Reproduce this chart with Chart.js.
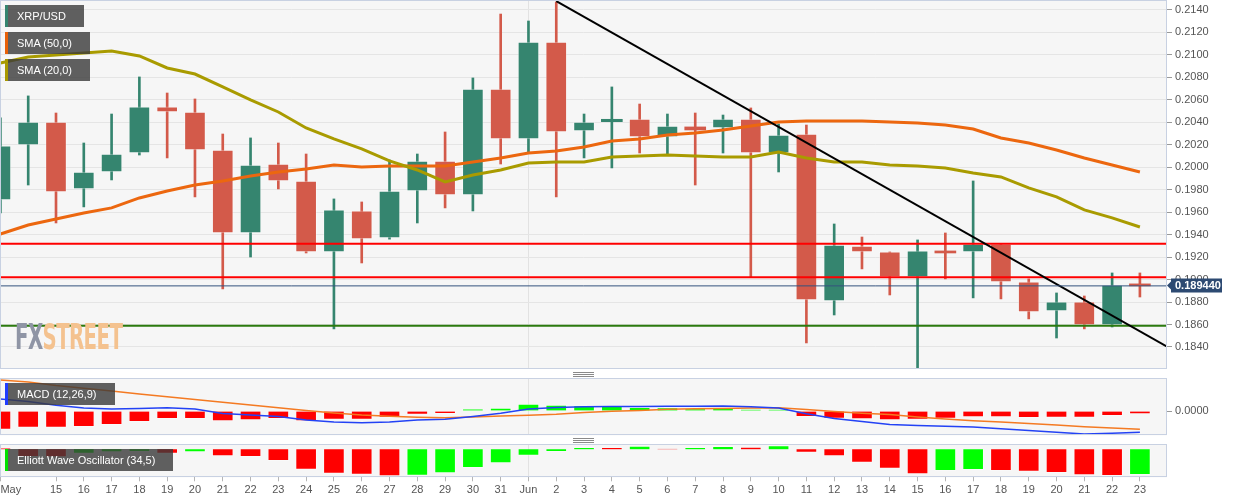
<!DOCTYPE html>
<html>
<head>
<meta charset="utf-8">
<script src="https://cdn.jsdelivr.net/npm/chart.js@4.4.1/dist/chart.umd.min.js"></script>
<style>
  html, body { margin: 0; padding: 0; background: #fff; }
  #wrap { position: relative; width: 1244px; height: 503px; overflow: hidden; font-family: "Liberation Sans", Arial, sans-serif; }
  canvas { position: absolute; left: 0; }
  .tag { position: absolute; left: 5px; height: 22px; line-height: 22px; padding-left: 12px; box-sizing: border-box;
         background: rgba(57, 57, 57, 0.8); color: #fff; font-size: 11px; white-space: nowrap; }
  .tag i { position: absolute; left: 0; top: 0; bottom: 0; width: 3px; }
  .grip { position: absolute; left: 573px; width: 21px; height: 1px; background: #8a8a8a; }
  #fx { position: absolute; left: 15px; top: 319px; font: bold 36px "DejaVu Sans Condensed", "DejaVu Sans", sans-serif;
        line-height: 1; transform: scaleX(0.61); transform-origin: 0 0; white-space: nowrap; letter-spacing: -1px; }
  #fx .g { color: #8f95a5; }
  #fx .o { color: #f4c28f; }
</style>
</head>
<body>
<div id="wrap">
  <canvas id="main" width="1244" height="370" style="top:0"></canvas>
  <canvas id="macd" width="1244" height="70" style="top:370px"></canvas>
  <canvas id="ewo" width="1244" height="63" style="top:440px"></canvas>

  <div id="fx"><span class="g">FX</span><span class="o">STREET</span></div>

  <div class="tag" style="top:5px;width:79px"><i style="background:#35856f"></i>XRP/USD</div>
  <div class="tag" style="top:32px;width:85px"><i style="background:#e86008"></i>SMA (50,0)</div>
  <div class="tag" style="top:59px;width:85px"><i style="background:#a89800"></i>SMA (20,0)</div>
  <div class="tag" style="top:383px;width:110px"><i style="background:#1f3cff"></i>MACD (12,26,9)</div>
  <div class="tag" style="top:449px;width:168px"><i style="background:#00e000"></i>Elliott Wave Oscillator (34,5)</div>

  <div class="grip" style="top:372px"></div>
  <div class="grip" style="top:374px"></div>
  <div class="grip" style="top:376px"></div>
  <div class="grip" style="top:438px"></div>
  <div class="grip" style="top:440px"></div>
  <div class="grip" style="top:442px"></div>
</div>

<script>
// daily candles, 13 May - 23 Jun
const days = ['May 13', 'May 14', 'May 15', 'May 16', 'May 17', 'May 18', 'May 19', 'May 20', 'May 21', 'May 22',
    'May 23', 'May 24', 'May 25', 'May 26', 'May 27', 'May 28', 'May 29', 'May 30', 'May 31', 'Jun 1',
    'Jun 2', 'Jun 3', 'Jun 4', 'Jun 5', 'Jun 6', 'Jun 7', 'Jun 8', 'Jun 9', 'Jun 10', 'Jun 11',
    'Jun 12', 'Jun 13', 'Jun 14', 'Jun 15', 'Jun 16', 'Jun 17', 'Jun 18', 'Jun 19', 'Jun 20', 'Jun 21',
    'Jun 22', 'Jun 23'];
const tickLabels = ['May', '', '15', '16', '17', '18', '19', '20', '21', '22', '23', '24', '25', '26', '27', '28',
    '29', '30', '31', 'Jun', '2', '3', '4', '5', '6', '7', '8', '9', '10', '11', '12', '13', '14', '15', '16',
    '17', '18', '19', '20', '21', '22', '23'];

const opens = [0.19709, 0.20198, 0.20403, 0.19807, 0.19958, 0.20127, 0.20537, 0.20492, 0.20154, 0.19415,
    0.20029, 0.19878, 0.19246, 0.19611, 0.19371, 0.19789, 0.20056, 0.19753, 0.20697, 0.20252,
    0.21115, 0.20323, 0.20406, 0.20430, 0.20270, 0.20359, 0.20350, 0.20430, 0.20127, 0.20296,
    0.18810, 0.19299, 0.19246, 0.19023, 0.19255, 0.19246, 0.19317, 0.18979, 0.18721, 0.18801,
    0.18596, 0.18952];
const highs = [0.20439, 0.20635, 0.20483, 0.20216, 0.20474, 0.20804, 0.20661, 0.20608, 0.20296, 0.20261,
    0.20216, 0.20118, 0.19718, 0.19691, 0.20065, 0.20118, 0.20314, 0.20795, 0.21364, 0.21302,
    0.21471, 0.20474, 0.20715, 0.20563, 0.20474, 0.20483, 0.20465, 0.20528, 0.20385, 0.20376,
    0.19495, 0.19379, 0.19246, 0.19353, 0.19415, 0.19878, 0.19317, 0.19006, 0.18881, 0.18854,
    0.19059, 0.19059];
const lows = [0.19593, 0.19842, 0.19504, 0.19647, 0.19887, 0.20109, 0.20083, 0.19736, 0.18917, 0.19201,
    0.19807, 0.19237, 0.18561, 0.19148, 0.19360, 0.19504, 0.19638, 0.19611, 0.20029, 0.20127,
    0.19736, 0.20083, 0.19994, 0.20127, 0.20118, 0.19842, 0.20127, 0.19023, 0.19958, 0.18436,
    0.18685, 0.19095, 0.18863, 0.18213, 0.19006, 0.18837, 0.18828, 0.18650, 0.18480, 0.18561,
    0.18578, 0.18845];
const closes = [0.20190, 0.20403, 0.19780, 0.19958, 0.20118, 0.20537, 0.20492, 0.20154, 0.19415, 0.20020,
    0.19878, 0.19246, 0.19620, 0.19362, 0.19789, 0.20056, 0.19753, 0.20697, 0.20252, 0.21115,
    0.20314, 0.20403, 0.20427, 0.20270, 0.20367, 0.20332, 0.20430, 0.20127, 0.20287, 0.18819,
    0.19308, 0.19246, 0.19023, 0.19255, 0.19237, 0.19317, 0.18979, 0.18712, 0.18801, 0.18596,
    0.18952, 0.18944];

const sma50 = [0.19406, 0.19486, 0.19540, 0.19593, 0.19638, 0.19727, 0.19789, 0.19842, 0.19878, 0.19922,
    0.19958, 0.19985, 0.20020, 0.20003, 0.20011, 0.20011, 0.20011, 0.20047, 0.20083, 0.20127,
    0.20145, 0.20181, 0.20234, 0.20252, 0.20287, 0.20305, 0.20332, 0.20367, 0.20403, 0.20412,
    0.20412, 0.20412, 0.20403, 0.20394, 0.20376, 0.20341, 0.20261, 0.20216, 0.20154, 0.20083,
    0.20020, 0.19958];
const sma20 = [0.20928, 0.20982, 0.21000, 0.21017, 0.21035, 0.20991, 0.20884, 0.20830, 0.20715, 0.20599,
    0.20492, 0.20350, 0.20252, 0.20163, 0.20056, 0.19976, 0.19869, 0.19931, 0.19976, 0.20038,
    0.20047, 0.20047, 0.20092, 0.20100, 0.20109, 0.20100, 0.20092, 0.20092, 0.20136, 0.20083,
    0.20047, 0.20047, 0.20020, 0.20011, 0.19994, 0.19949, 0.19914, 0.19816, 0.19736, 0.19620,
    0.19549, 0.19468];

const lastPrice = 0.189440;
const resistance1 = 0.1932;
const resistance2 = 0.1902;
const support1 = 0.1859;
const trendX = [20, 42];
const trendY = [0.2148, 0.1840];

const macdLine = [0.00120, 0.00096, 0.00058, 0.00030, 0.00020, 0.00025, 0.00033, 0.00020, -0.00025, -0.00040,
    -0.00055, -0.00090, -0.00110, -0.00117, -0.00110, -0.00090, -0.00083, -0.00055, -0.00023, 0.00020,
    0.00035, 0.00042, 0.00044, 0.00045, 0.00047, 0.00048, 0.00050, 0.00042, 0.00030, -0.00028,
    -0.00074, -0.00105, -0.00136, -0.00145, -0.00153, -0.00160, -0.00178, -0.00194, -0.00212, -0.00230,
    -0.00222, -0.00213];
const macdSignal = [0.00310, 0.00290, 0.00254, 0.00227, 0.00200, 0.00171, 0.00143, 0.00115, 0.00088, 0.00060,
    0.00032, 0.00005, -0.00020, -0.00040, -0.00053, -0.00062, -0.00067, -0.00060, -0.00050, -0.00042,
    -0.00032, -0.00015, -0.00003, 0.00005, 0.00017, 0.00022, 0.00026, 0.00030, 0.00033, 0.00016,
    -0.00005, -0.00022, -0.00036, -0.00060, -0.00080, -0.00097, -0.00110, -0.00125, -0.00140, -0.00158,
    -0.00170, -0.00183];
const macdHist = [-0.00183, -0.00163, -0.00163, -0.00157, -0.00137, -0.00107, -0.00077, -0.00077, -0.00100, -0.00090,
    -0.00077, -0.00100, -0.00083, -0.00083, -0.00063, -0.00033, -0.00027, 0.00020, 0.00030, 0.00070,
    0.00060, 0.00053, 0.00050, 0.00037, 0.00033, 0.00023, 0.00027, 0.00013, 0.00013, -0.00057,
    -0.00073, -0.00080, -0.00090, -0.00083, -0.00073, -0.00060, -0.00060, -0.00067, -0.00063, -0.00063,
    -0.00047, -0.00030];
const ewo = [0.00020, -0.00146, -0.00150, -0.00080, -0.00054, -0.00046, -0.00080, -0.00054, -0.00134, -0.00146,
    -0.00226, -0.00400, -0.00480, -0.00500, -0.00534, -0.00520, -0.00474, -0.00366, -0.00274, -0.00120,
    -0.00046, 0.00040, 0.00034, 0.00066, 0.00006, 0.00034, 0.00060, 0.00046, 0.00074, -0.00060,
    -0.00134, -0.00260, -0.00380, -0.00494, -0.00426, -0.00406, -0.00426, -0.00440, -0.00466, -0.00514,
    -0.00526, -0.00506];

// x range so that one day is ~27.8px and the last candle sits at 1139px
const xMin = -0.015;
const xMax = 41.975;
const AXIS_W = 77;

const UP = '#35856f';
const DOWN = '#d35a4a';

Chart.defaults.font.family = '"Liberation Sans", Arial, sans-serif';
Chart.defaults.font.size = 11;
Chart.defaults.color = '#555';
Chart.defaults.animation = false;
Chart.defaults.plugins.legend.display = false;
Chart.defaults.plugins.tooltip.enabled = false;

// fixes the size of an axis box and drops the label overflow padding
function fixBox(w, h) {
    return function (scale) {
        if (w !== null) scale.width = w;
        if (h !== null) scale.height = h;
        scale.paddingLeft = 0;
        scale.paddingRight = 0;
        scale.paddingTop = 0;
        scale.paddingBottom = 0;
    };
}

const pts = arr => arr.map((v, i) => ({ x: i, y: v }));
const hline = v => [{ x: xMin, y: v }, { x: xMax, y: v }];

// grey plot background and blue-grey frame
const panelPlugin = {
    id: 'panel',
    beforeDraw(chart) {
        const a = chart.chartArea, ctx = chart.ctx;
        ctx.save();
        ctx.fillStyle = '#f6f6f6';
        ctx.fillRect(a.left, a.top, a.right - a.left, a.bottom - a.top);
        ctx.restore();
    },
    afterDatasetsDraw(chart) {
        const a = chart.chartArea, ctx = chart.ctx;
        ctx.save();
        ctx.strokeStyle = '#c8d1e2';
        ctx.lineWidth = 1;
        ctx.strokeRect(Math.round(a.left) + 0.5, Math.round(a.top) + 0.5,
            Math.round(a.right - a.left) - 1, Math.round(a.bottom - a.top) - 1);
        ctx.restore();
    }
};

// last price marker on the right axis
const priceTagPlugin = {
    id: 'priceTag',
    afterDraw(chart) {
        const ctx = chart.ctx;
        const y = Math.round(chart.scales.y.getPixelForValue(lastPrice)) - 0.5;
        const x0 = chart.chartArea.right;
        ctx.save();
        ctx.fillStyle = '#2d4a72';
        ctx.beginPath();
        ctx.moveTo(x0, y);
        ctx.lineTo(x0 + 4, y - 4);
        ctx.lineTo(x0 + 4, y - 7);
        ctx.lineTo(x0 + 55, y - 7);
        ctx.lineTo(x0 + 55, y + 7);
        ctx.lineTo(x0 + 4, y + 7);
        ctx.lineTo(x0 + 4, y + 4);
        ctx.closePath();
        ctx.fill();
        ctx.fillStyle = '#fff';
        ctx.font = 'bold 11px "Liberation Sans", Arial, sans-serif';
        ctx.textBaseline = 'middle';
        ctx.fillText(lastPrice.toFixed(6), x0 + 8, y + 0.5);
        ctx.restore();
    }
};

const candleColors = opens.map((o, i) => closes[i] >= o ? UP : DOWN);
// thin doji bodies get no light outline so they stay solid
const bodyBorder = opens.map((o, i) => Math.abs(closes[i] - o) < 0.0003 ? 0 : 1);

// vertical separator at 1 Jun
const junX = () => ({
    type: 'linear', min: xMin, max: xMax, offset: false,
    border: { display: false },
    grid: { offset: false, drawTicks: false, color: '#e2e2e2' },
    ticks: { display: false },
    afterBuildTicks: s => { s.ticks = [{ value: 19 }]; },
    afterFit: fixBox(null, 0)
});

// price panel
new Chart(document.getElementById('main'), {
    type: 'bar',
    data: {
        datasets: [
            { type: 'line', data: hline(lastPrice), borderColor: '#34527d', borderWidth: 1, pointRadius: 0 },
            { type: 'line', data: trendX.map((x, i) => ({ x: x, y: trendY[i] })), borderColor: '#000', borderWidth: 2, pointRadius: 0 },
            { type: 'line', data: hline(resistance1), borderColor: '#ff0000', borderWidth: 2, pointRadius: 0 },
            { type: 'line', data: hline(resistance2), borderColor: '#ff0000', borderWidth: 2, pointRadius: 0 },
            { type: 'line', data: hline(support1), borderColor: '#2b7a0e', borderWidth: 2, pointRadius: 0 },
            { type: 'line', label: 'SMA (20,0)', data: pts(sma20), borderColor: '#a99b00', borderWidth: 3, pointRadius: 0 },
            { type: 'line', label: 'SMA (50,0)', data: pts(sma50), borderColor: '#ec670f', borderWidth: 3, pointRadius: 0 },
            {
                label: 'XRP/USD',
                data: opens.map((o, i) => ({ x: i, y: [o, closes[i]] })),
                backgroundColor: candleColors,
                borderColor: 'rgba(255,255,255,0.35)',
                borderWidth: bodyBorder,
                borderSkipped: false,
                barThickness: 21,
                minBarLength: 2,
                grouped: false
            },
            {
                data: lows.map((l, i) => ({ x: i, y: [l, highs[i]] })),
                backgroundColor: candleColors,
                borderWidth: 0,
                barThickness: 2,
                grouped: false
            }
        ]
    },
    options: {
        responsive: false,
        layout: { padding: { top: 0, bottom: 1, left: 0, right: 0 } },
        scales: {
            x: junX(),
            y: {
                position: 'right', min: 0.18204, max: 0.21489,
                border: { display: false },
                grid: { color: '#e5e5e5', tickColor: '#999', tickLength: 5 },
                ticks: { stepSize: 0.002, includeBounds: false, padding: 3, callback: v => v.toFixed(4) },
                afterFit: fixBox(AXIS_W, null)
            }
        }
    },
    plugins: [panelPlugin, priceTagPlugin]
});

// MACD panel
new Chart(document.getElementById('macd'), {
    type: 'bar',
    data: {
        datasets: [
            { type: 'line', data: pts(macdLine), borderColor: '#2342f5', borderWidth: 1.5, pointRadius: 0 },
            { type: 'line', data: pts(macdSignal), borderColor: '#f47a22', borderWidth: 1.5, pointRadius: 0 },
            {
                data: pts(macdHist),
                backgroundColor: macdHist.map(v => v >= 0 ? '#00ff00' : '#ff0000'),
                borderColor: 'rgba(255,255,255,0.4)',
                borderWidth: 1,
                barThickness: 21,
                grouped: false
            }
        ]
    },
    options: {
        responsive: false,
        layout: { padding: { top: 8.3, bottom: 4.7, left: 0, right: 0 } },
        scales: {
            x: junX(),
            y: {
                position: 'right', min: -0.00243, max: 0.00327,
                border: { display: false },
                grid: { color: 'transparent', tickColor: '#999', tickLength: 5 },
                ticks: { padding: 3, callback: v => v.toFixed(4) },
                afterBuildTicks: s => { s.ticks = [{ value: 0 }]; },
                afterFit: fixBox(AXIS_W, null)
            }
        }
    },
    plugins: [panelPlugin]
});

// Elliott Wave Oscillator panel with the date axis
const ewoColors = ewo.map((v, i) => (i > 0 && v >= ewo[i - 1]) ? '#00ff00' : '#ff0000');
const dateTicks = tickLabels.map((t, i) => t ? i : null).filter(i => i !== null);

new Chart(document.getElementById('ewo'), {
    type: 'bar',
    data: {
        datasets: [{
            data: pts(ewo),
            backgroundColor: ewoColors,
            borderColor: 'rgba(255,255,255,0.4)',
            borderWidth: 1,
            barThickness: 21,
            grouped: false
        }]
    },
    options: {
        responsive: false,
        layout: { padding: { top: 4, bottom: 0, left: 0, right: 0 } },
        scales: {
            x: {
                type: 'linear', min: xMin, max: xMax, offset: false,
                border: { display: false },
                grid: {
                    offset: false,
                    tickLength: 4,
                    color: c => c.tick && c.tick.value === 19 ? '#e2e2e2' : 'transparent',
                    tickColor: c => c.tick && c.tick.value > 41.5 ? 'transparent' : '#b5b5b5'
                },
                ticks: {
                    autoSkip: false, maxRotation: 0, align: 'inner', padding: 2,
                    callback: v => tickLabels[v] || ''
                },
                afterBuildTicks: s => { s.ticks = dateTicks.map(v => ({ value: v })).concat([{ value: xMax }]); },
                afterFit: fixBox(null, 25.7)
            },
            y: {
                position: 'right', min: -0.0056, max: 0.00106,
                border: { display: false },
                grid: { display: false },
                ticks: { display: false },
                afterFit: fixBox(AXIS_W, null)
            }
        }
    },
    plugins: [panelPlugin]
});
</script>
</body>
</html>
